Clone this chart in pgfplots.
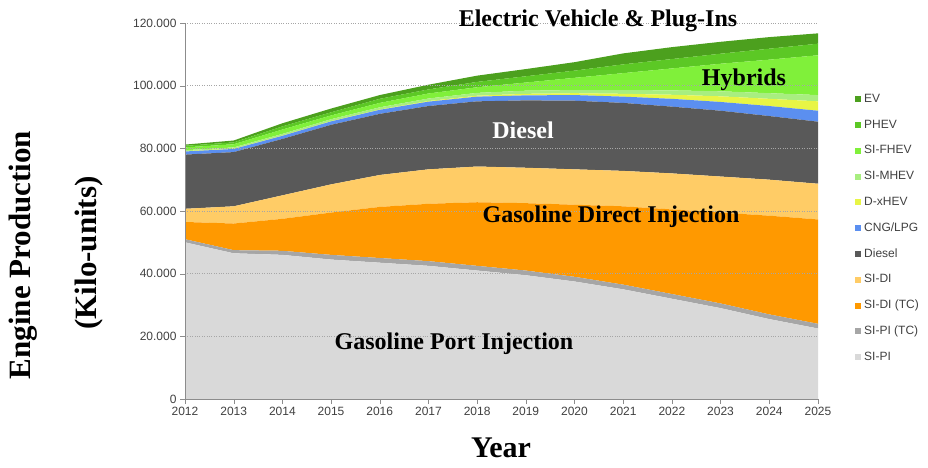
\documentclass[border=0pt]{standalone}
\usepackage{fontspec}
\setmainfont{Liberation Serif}
\newfontfamily\arial{Liberation Sans}
\usepackage{pgfplots}
\pgfplotsset{compat=1.18}

\definecolor{cSIPI}{HTML}{D9D9D9}
\definecolor{cSIPITC}{HTML}{A6A6A6}
\definecolor{cSIDITC}{HTML}{FF9900}
\definecolor{cSIDI}{HTML}{FFCC66}
\definecolor{cDiesel}{HTML}{595959}
\definecolor{cCNG}{HTML}{5B8FF0}
\definecolor{cDxHEV}{HTML}{E8F545}
\definecolor{cMHEV}{HTML}{A8EE80}
\definecolor{cFHEV}{HTML}{80F03A}
\definecolor{cPHEV}{HTML}{5CC825}
\definecolor{cEV}{HTML}{4CA01E}

\begin{document}
\begin{tikzpicture}
\path[use as bounding box] (0pt,0pt) rectangle (928pt,-467pt);
\begin{axis}[
  at={(185pt,-399pt)}, anchor=south west,
  scale only axis, width=633pt, height=376pt,
  xmin=2012, xmax=2025, ymin=0, ymax=120,
  stack plots=y, area style,
  axis x line=bottom, axis y line=left,
  axis line style={-, draw=black!45},
  xtick={2012,...,2025},
  xticklabels={2012,2013,2014,2015,2016,2017,2018,2019,2020,2021,2022,2023,2024,2025},
  ytick={0,20,...,120},
  yticklabels={0,20.000,40.000,60.000,80.000,100.000,120.000},
  tick align=outside, major tick length=5pt,
  tick style={draw=black!45},
  ymajorgrids, grid style={dotted, black!35},
  ticklabel style={font=\arial\fontsize{12}{14}\selectfont, text=black!75},
  reverse legend, legend cell align=left,
  legend image code/.code={\fill[#1] (0pt,-3pt) rectangle (6pt,3pt);},
  legend style={at={(1.0585,0.811)}, anchor=north west,
    draw=none, fill=none, inner sep=0pt,
    row sep=15.8pt, column sep=3pt,
    nodes={inner sep=0pt, text height=8pt, text depth=2pt,
      font=\arial\fontsize{12}{14}\selectfont, text=black!75}},
]
% SI-PI
\addplot[fill=cSIPI, draw=none] coordinates {
  (2012,50) (2013,46.5) (2014,46) (2015,44.5) (2016,43.5) (2017,42.5) (2018,41)
  (2019,39.5) (2020,37.5) (2021,35) (2022,32) (2023,29) (2024,25.5) (2025,22.5)} \closedcycle;
\addlegendentry{SI-PI}
% SI-PI (TC)
\addplot[fill=cSIPITC, draw=none] coordinates {
  (2012,1) (2013,1) (2014,1.3) (2015,1.5) (2016,1.5) (2017,1.5) (2018,1.5)
  (2019,1.5) (2020,1.5) (2021,1.5) (2022,1.5) (2023,1.5) (2024,1.5) (2025,1.5)} \closedcycle;
\addlegendentry{SI-PI (TC)}
% SI-DI (TC)
\addplot[fill=cSIDITC, draw=none] coordinates {
  (2012,5.5) (2013,8.5) (2014,10.2) (2015,13.5) (2016,16.3) (2017,18.3) (2018,20.3)
  (2019,21.5) (2020,23) (2021,25) (2022,27) (2023,29) (2024,31.5) (2025,33.3)} \closedcycle;
\addlegendentry{SI-DI (TC)}
% SI-DI
\addplot[fill=cSIDI, draw=none] coordinates {
  (2012,4.2) (2013,5.5) (2014,7.5) (2015,9) (2016,10.2) (2017,11) (2018,11.4)
  (2019,11.3) (2020,11.3) (2021,11.3) (2022,11.5) (2023,11.5) (2024,11.5) (2025,11.4)} \closedcycle;
\addlegendentry{SI-DI}
% Diesel
\addplot[fill=cDiesel, draw=none] coordinates {
  (2012,17.3) (2013,17.3) (2014,18) (2015,19) (2016,19.5) (2017,20.2) (2018,20.8)
  (2019,21.5) (2020,21.9) (2021,21.7) (2022,21.3) (2023,21) (2024,20.3) (2025,19.8)} \closedcycle;
\addlegendentry{Diesel}
% CNG/LPG
\addplot[fill=cCNG, draw=none] coordinates {
  (2012,1) (2013,1) (2014,1) (2015,1.1) (2016,1.3) (2017,1.4) (2018,1.5)
  (2019,1.6) (2020,1.8) (2021,2) (2022,2.5) (2023,2.8) (2024,3.2) (2025,3.5)} \closedcycle;
\addlegendentry{CNG/LPG}
% D-xHEV
\addplot[fill=cDxHEV, draw=none] coordinates {
  (2012,0.1) (2013,0.1) (2014,0.1) (2015,0.1) (2016,0.1) (2017,0.2) (2018,0.3)
  (2019,0.5) (2020,0.6) (2021,0.9) (2022,1.3) (2023,1.8) (2024,2.3) (2025,3)} \closedcycle;
\addlegendentry{D-xHEV}
% SI-MHEV
\addplot[fill=cMHEV, draw=none] coordinates {
  (2012,0.3) (2013,0.4) (2014,0.5) (2015,0.6) (2016,0.7) (2017,0.8) (2018,0.9)
  (2019,1) (2020,1) (2021,1.2) (2022,1.4) (2023,1.6) (2024,1.8) (2025,2)} \closedcycle;
\addlegendentry{SI-MHEV}
% SI-FHEV
\addplot[fill=cFHEV, draw=none] coordinates {
  (2012,0.9) (2013,1) (2014,1.4) (2015,1.2) (2016,1.4) (2017,1.6) (2018,1.8)
  (2019,2.6) (2020,3.9) (2021,5.4) (2022,7) (2023,8.8) (2024,10.7) (2025,12.7)} \closedcycle;
\addlegendentry{SI-FHEV}
% PHEV
\addplot[fill=cPHEV, draw=none] coordinates {
  (2012,0.5) (2013,0.6) (2014,1) (2015,1) (2016,1.3) (2017,1.3) (2018,1.7)
  (2019,2) (2020,2.3) (2021,2.8) (2022,3) (2023,3.2) (2024,3.5) (2025,3.7)} \closedcycle;
\addlegendentry{PHEV}
% EV
\addplot[fill=cEV, draw=none] coordinates {
  (2012,0.4) (2013,0.6) (2014,1) (2015,1.2) (2016,1.2) (2017,1.5) (2018,2)
  (2019,2.3) (2020,2.7) (2021,3.5) (2022,3.8) (2023,3.8) (2024,3.7) (2025,3.3)} \closedcycle;
\addlegendentry{EV}
\end{axis}

\tikzset{lab/.style={font=\bfseries\fontsize{24}{28}\selectfont, inner sep=0pt}}
\node[lab] at (598pt,-21pt) {Electric Vehicle \& Plug-Ins};
\node[lab] at (744pt,-80pt) {Hybrids};
\node[lab, text=white] at (523pt,-130pt) {Diesel};
\node[lab] at (611pt,-217pt) {Gasoline Direct Injection};
\node[lab] at (454pt,-344pt) {Gasoline Port Injection};
\node[font=\bfseries\fontsize{30}{34}\selectfont, inner sep=0pt] at (501pt,-448pt) {Year};
\node[font=\bfseries\fontsize{31}{35}\selectfont, inner sep=0pt, rotate=90] at (23pt,-255pt) {Engine Production};
\node[font=\bfseries\fontsize{31}{35}\selectfont, inner sep=0pt, rotate=90] at (89pt,-253pt) {(Kilo-units)};
\end{tikzpicture}
\end{document}
